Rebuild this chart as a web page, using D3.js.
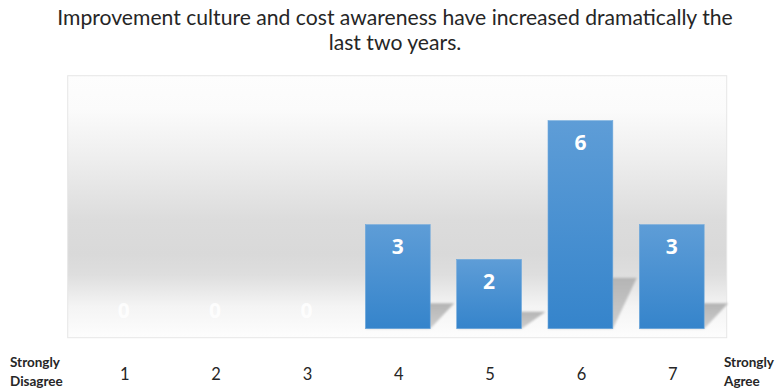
<!DOCTYPE html>
<html><head><meta charset="utf-8">
<script src="https://cdn.jsdelivr.net/npm/d3@7/dist/d3.min.js"></script>
<style>body{margin:0;background:#fff}svg{display:block}</style>
</head><body><svg id="c" width="776" height="389"></svg>
<script>
const titleLines = ["Improvement culture and cost awareness have increased dramatically the", "last two years."];
const categories = ["1","2","3","4","5","6","7"];
const values = [0,0,0,3,2,6,3];
const leftEndLabel = ["Strongly","Disagree"];
const rightEndLabel = ["Strongly","Agree"];

const svg = d3.select("#c");
const W = 776, H = 389;
const plot = {x0: 67.7, y0: 75.7, x1: 726.7, y1: 337.7};
const base = 328.7;

const x = d3.scaleBand().domain(categories).range([78.15, 717.4]).paddingInner(0.29).paddingOuter(0.145);
const y = d3.scaleLinear().domain([0, 7]).range([base, base - 7 * 34.67]);

const defs = svg.append("defs");
const bg = defs.append("linearGradient").attr("id","bg").attr("x1",0).attr("y1",0).attr("x2",0).attr("y2",1);
[[0,"#fdfdfd"],[0.13,"#fbfbfb"],[0.33,"#ededed"],[0.55,"#dcdcdc"],[0.68,"#d9d9d9"],[0.76,"#dedede"],[0.88,"#f4f4f4"],[1,"#fdfdfd"]]
  .forEach(s => bg.append("stop").attr("offset", s[0]).attr("stop-color", s[1]));
const bar = defs.append("linearGradient").attr("id","bar").attr("x1",0).attr("y1",0).attr("x2",0).attr("y2",1);
[[0,"#5e9dd7"],[1,"#3584cb"]].forEach(s => bar.append("stop").attr("offset", s[0]).attr("stop-color", s[1]));
const sh = defs.append("linearGradient").attr("id","sh").attr("x1",0).attr("y1",0).attr("x2",0).attr("y2",1);
[[0,"#b4b4b4"],[1,"#cfcfcf"]].forEach(s => sh.append("stop").attr("offset", s[0]).attr("stop-color", s[1]));
const blur = defs.append("filter").attr("id","blur").attr("x","-20%").attr("y","-20%").attr("width","140%").attr("height","140%");
blur.append("feGaussianBlur").attr("stdDeviation", 1.3);

svg.append("rect").attr("x", plot.x0).attr("y", plot.y0).attr("width", plot.x1 - plot.x0).attr("height", plot.y1 - plot.y0)
  .attr("fill","url(#bg)").attr("stroke","#e6e6e6").attr("stroke-width",1);

// Title
const title = svg.append("g");
titleLines.forEach((t, i) => {
  title.append("text").attr("x", 395).attr("y", 25 + i*25).attr("text-anchor","middle")
    .attr("font-family","Lato, 'Open Sans', sans-serif").attr("font-size", 19).attr("fill","#262626").text(t);
});
const l1 = title.select("text").node();
const target = 676;
const len = l1.getComputedTextLength();
if (len > 0) {
  const fs = 19 * target / len;
  title.selectAll("text").attr("font-size", fs);
}

// Shadows
const shadowPerUnit = 8.5;
svg.append("g").selectAll("path").data(values.map((v,i)=>({v, c: categories[i]})).filter(d => d.v > 0))
  .join("path")
  .attr("d", d => {
    const xl = x(d.c), xr = x(d.c) + x.bandwidth();
    const h = d.v * shadowPerUnit;
    const dx = 24;
    return `M${xl},${base} L${xr},${base} L${xr+dx},${base-h} L${xl+dx},${base-h} Z`;
  })
  .attr("fill","url(#sh)").attr("filter","url(#blur)");

// Bars
svg.append("g").selectAll("rect").data(values.map((v,i)=>({v, c: categories[i]})))
  .join("rect")
  .attr("x", d => x(d.c)).attr("y", d => y(d.v))
  .attr("width", x.bandwidth()).attr("height", d => base - y(d.v))
  .attr("fill","url(#bar)").attr("stroke","#6ea8dc").attr("stroke-width",0.6);

// Value labels
svg.append("g").selectAll("text").data(values.map((v,i)=>({v, c: categories[i]})))
  .join("text")
  .attr("x", d => x(d.c) + x.bandwidth()/2)
  .attr("y", d => d.v > 0 ? y(d.v) + 29.5 : base - 11)
  .attr("text-anchor","middle")
  .attr("font-family","'Open Sans', Lato, sans-serif").attr("font-weight","bold").attr("font-size",21)
  .attr("fill","#ffffff").attr("fill-opacity", d => d.v > 0 ? 1 : 0.85).text(d => d.v);

// Category labels
svg.append("g").selectAll("text").data(categories).join("text")
  .attr("x", d => x(d) + x.bandwidth()/2 + 1).attr("y", 379.5)
  .attr("text-anchor","middle").attr("font-family","Lato, 'Open Sans', sans-serif").attr("font-size",16.5)
  .attr("fill","#262626").text(d => d);

// End labels
function endLabel(lines, xx) {
  const t = svg.append("text").attr("font-family","Lato, 'Open Sans', sans-serif").attr("font-weight","bold")
    .attr("font-size",13.5).attr("fill","#262626");
  lines.forEach((s, i) => t.append("tspan").attr("x", xx).attr("y", 367 + i*18.5).text(s));
}
endLabel(leftEndLabel, 10);
endLabel(rightEndLabel, 724);
</script></body></html>
